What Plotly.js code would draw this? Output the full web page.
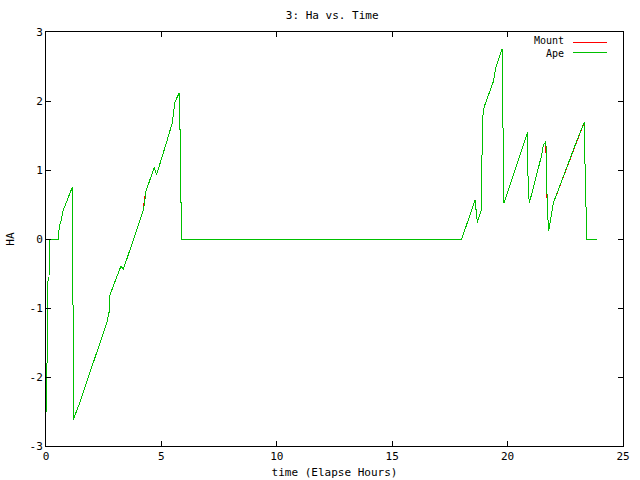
<!DOCTYPE html>
<html>
<head>
<meta charset="utf-8">
<script src="https://cdn.plot.ly/plotly-3.0.1.min.js"></script>
<style>
html,body{margin:0;padding:0;background:#fff;}
#chart{width:640px;height:480px;}
#chart .scatterlayer path.js-line{shape-rendering:crispEdges;}
#chart .layer-above path{shape-rendering:crispEdges;}
</style>
</head>
<body>
<div id="chart"></div>
<script>
// Time (elapsed hours)
const timeHours = [0.00,0.03,0.04,0.07,0.08,0.13,0.14,0.53,0.58,0.64,0.75,1.14,1.15,1.18,1.18,1.43,2.63,2.74,2.77,3.25,3.35,4.22,4.26,4.30,4.33,4.69,4.79,5.23,5.47,5.59,5.78,5.78,5.83,5.83,5.87,5.87,18.01,18.59,18.69,18.85,18.87,18.92,18.99,19.38,19.48,19.77,19.78,19.83,19.84,20.83,20.86,20.89,20.94,21.48,21.55,21.66,21.67,21.72,21.78,21.98,22.96,23.33,23.34,23.39,23.43,23.86];
// Ape HA values
const apeHA = [-2.51,-2.45,-1.80,-1.75,-0.62,-0.58,0.00,0.00,0.20,0.25,0.42,0.75,-0.94,-0.96,-2.62,-2.40,-1.22,-1.05,-0.81,-0.39,-0.44,0.42,0.50,0.62,0.69,1.04,0.93,1.41,1.68,1.99,2.12,1.60,1.58,0.54,0.52,0.00,0.00,0.56,0.24,0.41,1.07,1.77,1.92,2.28,2.47,2.76,2.21,1.07,0.52,1.51,1.55,0.78,0.52,1.22,1.36,1.41,1.10,0.44,0.11,0.52,1.39,1.70,1.29,0.42,0.00,0.00];
// Mount HA values
const mountHA = [-2.51,-2.45,-1.80,-1.75,-0.62,-0.58,0.00,0.00,0.20,0.25,0.42,0.75,-0.94,-0.96,-2.62,-2.40,-1.22,-1.05,-0.81,-0.39,-0.44,0.42,0.58,0.66,0.69,1.04,0.93,1.41,1.68,1.99,2.12,1.60,1.58,0.54,0.52,0.00,0.00,0.56,0.24,0.41,1.07,1.77,1.92,2.28,2.47,2.76,2.21,1.07,0.52,1.51,1.55,0.78,0.52,1.22,1.36,1.41,1.06,0.44,0.11,0.52,1.39,1.70,1.29,0.42,0.00,0.00];
const xTicks = [0,5,10,15,20,25];
const yTicks = [-3,-2,-1,0,1,2,3];

const mono = "DejaVu Sans Mono, Liberation Mono, monospace";
const traces = [
  {x: timeHours, y: mountHA, name: "Mount", mode: "lines", line: {color: "#ff0000", width: 1}},
  {x: timeHours, y: apeHA, name: "Ape", mode: "lines", line: {color: "#00c000", width: 1}}
];
const axisCommon = {
  showgrid: false, zeroline: false, showline: true, linecolor: "#000", linewidth: 1,
  mirror: "allticks", ticks: "inside", ticklen: 5, tickcolor: "#000",
  tickfont: {family: mono, size: 11, color: "#000"}
};
const layout = {
  width: 640, height: 480,
  margin: {l: 46, r: 17, t: 32, b: 34},
  paper_bgcolor: "#fff", plot_bgcolor: "#fff",
  showlegend: false,
  title: {text: "3: Ha vs. Time", font: {family: mono, size: 11, color: "#000"}, x: 0.519, xanchor: "center", y: 0.968, yanchor: "middle"},
  xaxis: Object.assign({}, axisCommon, {range: [0, 25], tickvals: xTicks, ticktext: xTicks.map(String),
    title: {text: "time (Elapse Hours)", font: {family: mono, size: 11, color: "#000"}, standoff: 6}}),
  yaxis: Object.assign({}, axisCommon, {range: [-3, 3], tickvals: yTicks, ticktext: yTicks.map(String),
    title: {text: "HA", font: {family: mono, size: 11, color: "#000"}, standoff: 12}}),
  annotations: [
    {xref: "paper", yref: "paper", x: 0.899, y: 0.9795, xanchor: "right", yanchor: "middle", text: "Mount", showarrow: false, borderpad: 0, font: {family: mono, size: 10, color: "#000"}},
    {xref: "paper", yref: "paper", x: 0.899, y: 0.9469, xanchor: "right", yanchor: "middle", text: "Ape", showarrow: false, borderpad: 0, font: {family: mono, size: 10, color: "#000"}}
  ],
  shapes: [
    {type: "line", xref: "paper", yref: "paper", x0: 0.913, x1: 0.972, y0: 0.9758, y1: 0.9758, line: {color: "#ff0000", width: 1}},
    {type: "line", xref: "paper", yref: "paper", x0: 0.913, x1: 0.972, y0: 0.9493, y1: 0.9493, line: {color: "#00c000", width: 1}}
  ]
};
Plotly.newPlot("chart", traces, layout, {displayModeBar: false, staticPlot: true});
</script>
</body>
</html>
